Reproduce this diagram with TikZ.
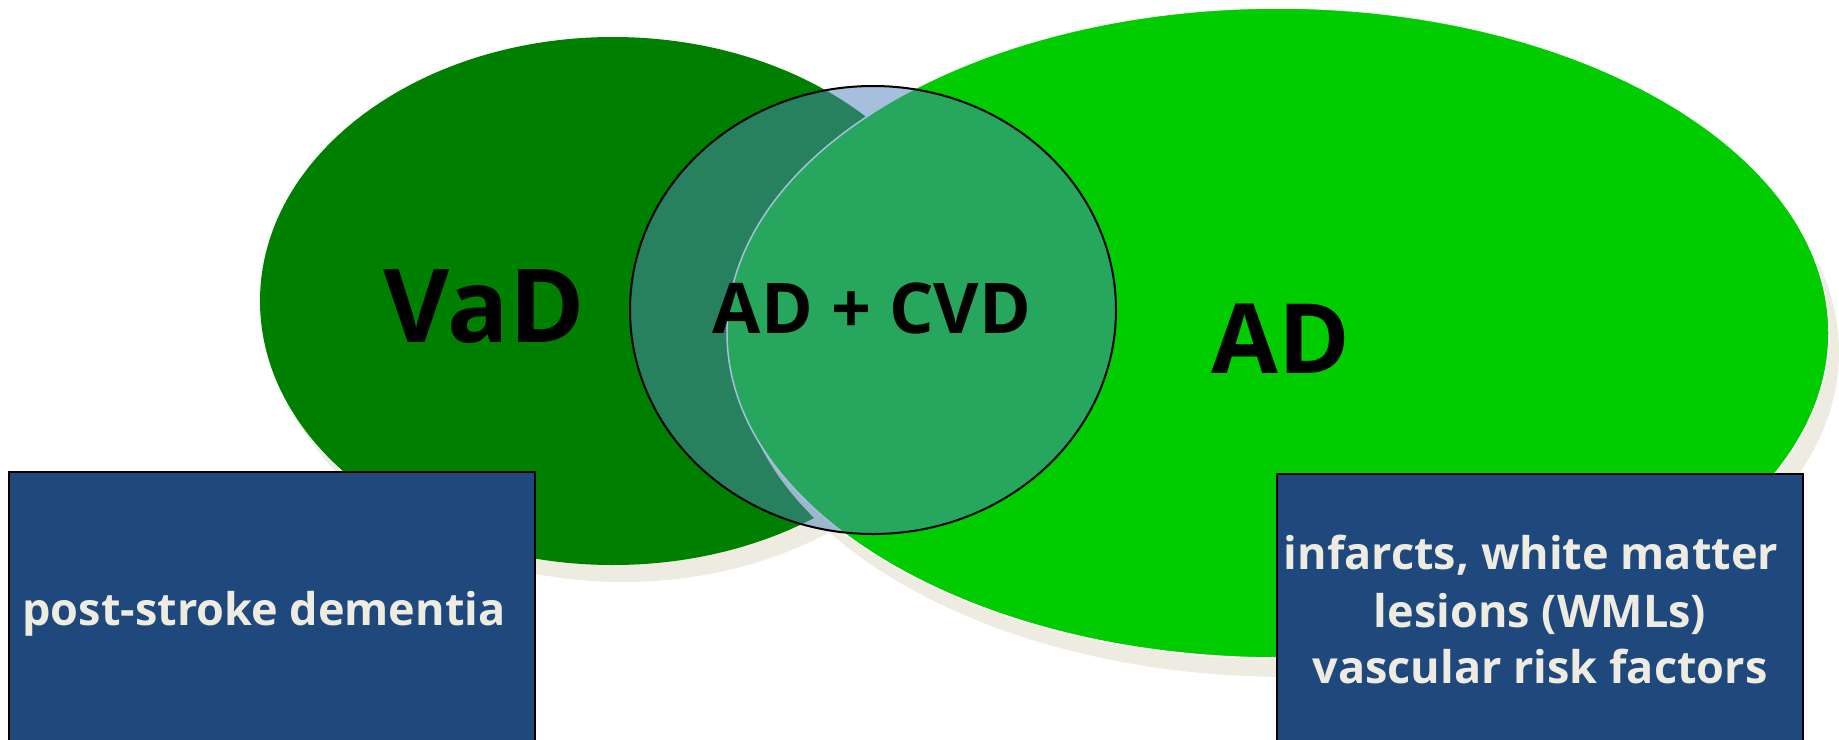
\documentclass[tikz,border=0pt]{standalone}
\usepackage{fontspec}
\setmainfont{Open Sans}
\usetikzlibrary{shapes.geometric}
\definecolor{vadgreen}{HTML}{008000}
\definecolor{adgreen}{HTML}{00CC00}
\definecolor{shadecol}{HTML}{EEECE1}
\definecolor{mixblue}{HTML}{4F81BD}
\definecolor{boxblue}{HTML}{1F497D}
\begin{document}
\begin{tikzpicture}[x=1pt,y=-1pt,
  blob/.style={ellipse, inner sep=0pt, draw=none},
  bigword/.style={text=black, anchor=base, inner sep=0pt},
  infobox/.style={rectangle, fill=boxblue, draw=black, line width=2pt, inner sep=0pt},
  boxtext/.style={font=\bfseries\fontsize{45}{60}\selectfont, text=shadecol, anchor=base, inner sep=0pt}]
\useasboundingbox (0,0) rectangle (1839,739);
\clip (0,0) rectangle (1839,739);
\fill[white] (0,0) rectangle (1839,739);

% VaD ellipse with its shadow
\node[blob, fill=shadecol, minimum width=706pt, minimum height=528pt] (vadshadow) at (623,318) {};
\node[blob, fill=vadgreen, minimum width=706pt, minimum height=528pt] (vad) at (613,301) {};

% AD ellipse with its shadow
\node[blob, fill=shadecol, minimum width=1102pt, minimum height=650pt] (adshadow) at (1288,352) {};
\node[blob, fill=adgreen, draw=white, line width=1.5pt, minimum width=1102pt, minimum height=650pt] (ad) at (1278,333) {};

% overlap region
\node[blob, fill=mixblue, fill opacity=0.5, draw=black, draw opacity=1, line width=2pt, minimum width=486pt, minimum height=448pt] (mix) at (873,310) {};

% labels
\node[bigword, font=\bfseries\fontsize{102}{102}\selectfont] (vadlabel) at (484,342) {VaD};
\node[bigword, font=\bfseries\fontsize{97}{97}\selectfont] (adlabel) at (1281,373) {AD};
\node[bigword, font=\bfseries\fontsize{70}{70}\selectfont] (mixlabel) at (872,333) {AD + CVD};

% text boxes
\draw[infobox] (9,472) rectangle (535,760);
\node[boxtext] (psd) at (264,625) {post-stroke dementia};
\draw[infobox] (1277,474) rectangle (1803,760);
\node[boxtext] (vasc1) at (1531,569) {infarcts, white matter};
\node[boxtext] (vasc2) at (1540,627) {lesions (WMLs)};
\node[boxtext] (vasc3) at (1540,683) {vascular risk factors};
\end{tikzpicture}
\end{document}
